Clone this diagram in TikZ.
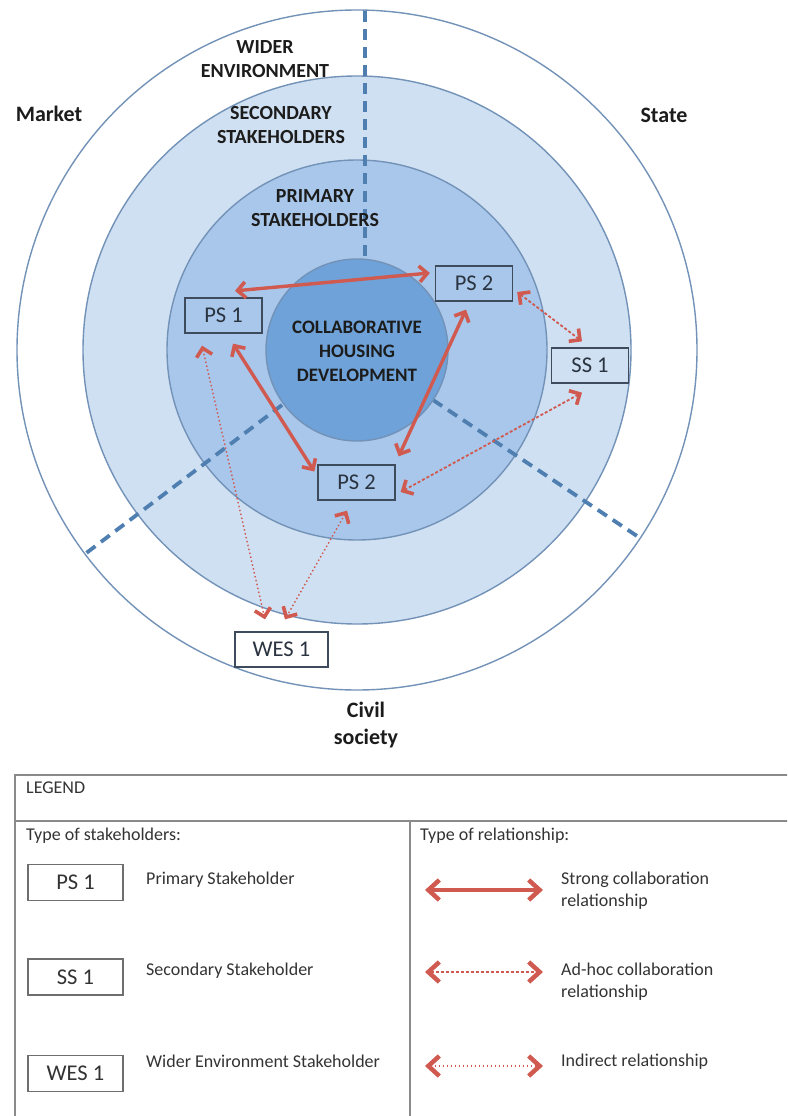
\documentclass[tikz,border=0pt]{standalone}
\usepackage{fontspec}
\setmainfont{Carlito}
\usetikzlibrary{arrows.meta}

\definecolor{ringline}{HTML}{7392B8}
\definecolor{secfill}{HTML}{CFE0F2}
\definecolor{primfill}{HTML}{A9C7EA}
\definecolor{corefill}{HTML}{6EA2D8}
\definecolor{sectorblue}{HTML}{4F7FB0}
\definecolor{rel}{HTML}{D05A50}
\definecolor{boxline}{HTML}{3E4B5C}
\definecolor{boxtext}{HTML}{2A3340}
\definecolor{labeltext}{HTML}{1C1C1C}
\definecolor{legendline}{HTML}{8A8A8A}
\definecolor{legendtext}{HTML}{333333}
\definecolor{keyline}{HTML}{6E6E6E}

\tikzset{
  RelHead/.tip={Straight Barb[length=8pt,width=16pt,line width=3.6pt]},
  BigHead/.tip={Straight Barb[length=11pt,width=20pt,line width=4.5pt]}
}

\begin{document}
\begin{tikzpicture}[x=1pt,y=-1pt,
  ring/.style={draw=ringline, line width=1.4pt},
  sector/.style={draw=sectorblue, line width=3.8pt, dash pattern=on 11pt off 7pt},
  lab/.style={font=\fontsize{20}{24}\selectfont\bfseries, text=labeltext, align=center},
  side/.style={font=\fontsize{22}{27}\selectfont\bfseries, text=labeltext, align=center},
  sh/.style={draw=boxline, line width=1.3pt, minimum width=77pt, minimum height=35pt,
    inner sep=0pt, font=\fontsize{22.5}{24}\selectfont, text=boxtext},
  keybox/.style={sh, draw=keyline, text=legendtext, minimum width=95pt, minimum height=36pt},
  strong/.style={draw=rel, line width=3.4pt, arrows={RelHead-RelHead}},
  adhoc/.style={draw=rel, line width=1.8pt, dash pattern=on 3pt off 2pt, arrows={RelHead-RelHead}},
  indirect/.style={draw=rel, line width=1.4pt, dash pattern=on 1.5pt off 2.5pt, arrows={RelHead-RelHead}},
  keyarrow/.style={arrows={BigHead-BigHead}},
  legtext/.style={font=\fontsize{18}{22}\selectfont, text=legendtext, inner sep=0pt, anchor=base west, align=left},
  legrule/.style={draw=legendline, line width=1.5pt}
]
\useasboundingbox (0,0) rectangle (787,1116);
\clip (0,0) rectangle (787,1116);

% concentric stakeholder rings
\coordinate (C) at (357,350);
\fill[white] (C) circle[radius=340];
\draw[ring] (C) circle[radius=340];
\filldraw[ring, fill=secfill] (C) circle[radius=274];
\filldraw[ring, fill=primfill] (C) circle[radius=190];

% sector boundaries: market / state / civil society
\draw[sector] (365,11) -- (365,262);
\draw[sector] (282,405) -- (85,554);
\draw[sector] (433,400) -- (640,538);

\filldraw[ring, fill=corefill] (C) circle[radius=91];

% ring labels
\node[lab] at (265,59) {WIDER\\ENVIRONMENT};
\node[lab] at (281,125) {SECONDARY\\STAKEHOLDERS};
\node[lab] at (315,208) {PRIMARY\\STAKEHOLDERS};
\node[lab, font=\fontsize{19}{24}\selectfont\bfseries] at (357,351) {COLLABORATIVE\\HOUSING\\DEVELOPMENT};
\node[side] (market) at (49,114) {Market};
\node[side] (state) at (664,115) {State};
\node[side] (civil) at (366,725) {Civil\\society};

% stakeholders
\node[sh] (ps1) at (223.5,315.5) {PS 1};
\node[sh] (ps2t) at (474,283.5) {PS 2};
\node[sh] (ss1) at (590,365.5) {SS 1};
\node[sh] (ps2b) at (356.5,482.5) {PS 2};
\node[sh, fill=white, minimum width=93pt] (wes1) at (281.5,649.5) {WES 1};

% relationships
\draw[strong] ([shift={(11.5,-6.5)}]ps1.north) -- ([shift={(-5,-10.5)}]ps2t.west);
\draw[strong] ([shift={(-8,8)}]ps2t.south) -- ([shift={(3,-8)}]ps2b.north east);
\draw[strong] ([shift={(9.5,10)}]ps1.south) -- ([shift={(-3,-11)}]ps2b.west);
\draw[adhoc] ([shift={(4,8.5)}]ps2t.east) -- ([shift={(-8,-6)}]ss1.north);
\draw[adhoc] ([shift={(-8,9)}]ss1.south) -- ([shift={(5,9.5)}]ps2b.east);
\draw[indirect] ([shift={(-21.5,12)}]ps1.south) -- ([shift={(-16.5,-12)}]wes1.north);
\draw[indirect] ([shift={(-9.5,10)}]ps2b.south) -- ([shift={(3.5,-12)}]wes1.north);

% legend frame
\draw[legrule] (15,1130) -- (15,775) -- (800,775);
\draw[legrule] (15,821) -- (800,821);
\draw[legrule] (410,821) -- (410,1130);

\node[legtext] (legtitle) at (26,793) {LEGEND};
\node[legtext] (typesh) at (26,840) {Type of stakeholders:};
\node[legtext] (typerel) at (420,840) {Type of relationship:};

\node[keybox] (kps) at (75.5,882.5) {PS 1};
\node[keybox] (kss) at (75.5,977) {SS 1};
\node[keybox] (kwes) at (75.5,1073.5) {WES 1};
\node[legtext] (tps) at (146,884) {Primary Stakeholder};
\node[legtext] (tss) at (146,975) {Secondary Stakeholder};
\node[legtext] (twes) at (146,1067) {Wider Environment Stakeholder};

\coordinate (sa) at (425,890);
\coordinate (sb) at (543,890);
\coordinate (aa) at (425,972);
\coordinate (ab) at (543,972);
\coordinate (ia) at (425,1066);
\coordinate (ib) at (543,1066);
\draw[strong, keyarrow] (sa) -- (sb);
\draw[adhoc, keyarrow] (aa) -- (ab);
\draw[indirect, keyarrow] (ia) -- (ib);
\node[legtext] (tstrong) at (561,906) {Strong collaboration\\relationship};
\node[legtext] (tadhoc) at (561,997) {Ad-hoc collaboration\\relationship};
\node[legtext] (tind) at (561,1066) {Indirect relationship};
\end{tikzpicture}
\end{document}
